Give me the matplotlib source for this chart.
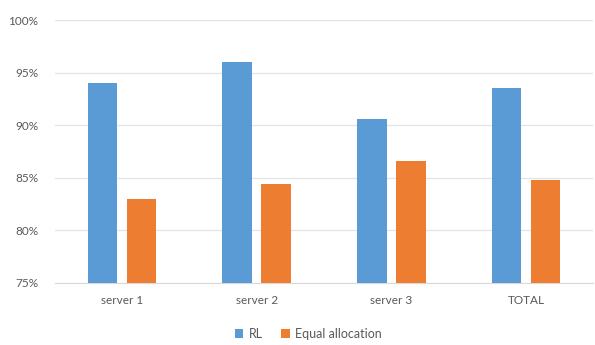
import matplotlib
matplotlib.use("Agg")
import matplotlib.pyplot as plt
import numpy as np

# values (percent)
categories = ["server 1", "server 2", "server 3", "TOTAL"]
rl = [94.0, 96.0, 90.6, 93.5]
equal_alloc = [83.0, 84.4, 86.6, 84.8]
yticks = [75, 80, 85, 90, 95, 100]

plt.rcParams["font.family"] = ["Lato", "DejaVu Sans"]

fig = plt.figure(figsize=(5.95, 3.45), dpi=100)
ax = fig.add_axes([0.092, 0.180, 0.905, 0.762])

x = np.arange(len(categories))
w = 0.22
ax.bar(x - 0.145, rl, w, color="#5B9BD5", label="RL", zorder=3)
ax.bar(x + 0.145, equal_alloc, w, color="#ED7D31", label="Equal allocation", zorder=3)

ax.set_ylim(75, 100)
ax.set_xlim(-0.5, len(categories) - 0.5)
ax.set_yticks(yticks)
ax.set_yticklabels([f"{t}%" for t in yticks])
ax.set_xticks(x)
ax.set_xticklabels(categories)

ax.grid(axis="y", color="#E3E3E3", linewidth=0.9, zorder=0)
for s in ["top", "right", "left"]:
    ax.spines[s].set_visible(False)
ax.spines["bottom"].set_color("#D9D9D9")
ax.tick_params(axis="both", length=0, colors="#595959", labelsize=8.5)
ax.tick_params(axis="y", pad=12)
ax.tick_params(axis="x", pad=9)

fig.legend(loc="center", bbox_to_anchor=(0.518, 0.032), ncol=2, frameon=False,
           fontsize=9, handlelength=0.7, handleheight=0.7, handletextpad=0.4,
           columnspacing=1.5, labelcolor="#595959")

fig.savefig("out.png", dpi=100)
